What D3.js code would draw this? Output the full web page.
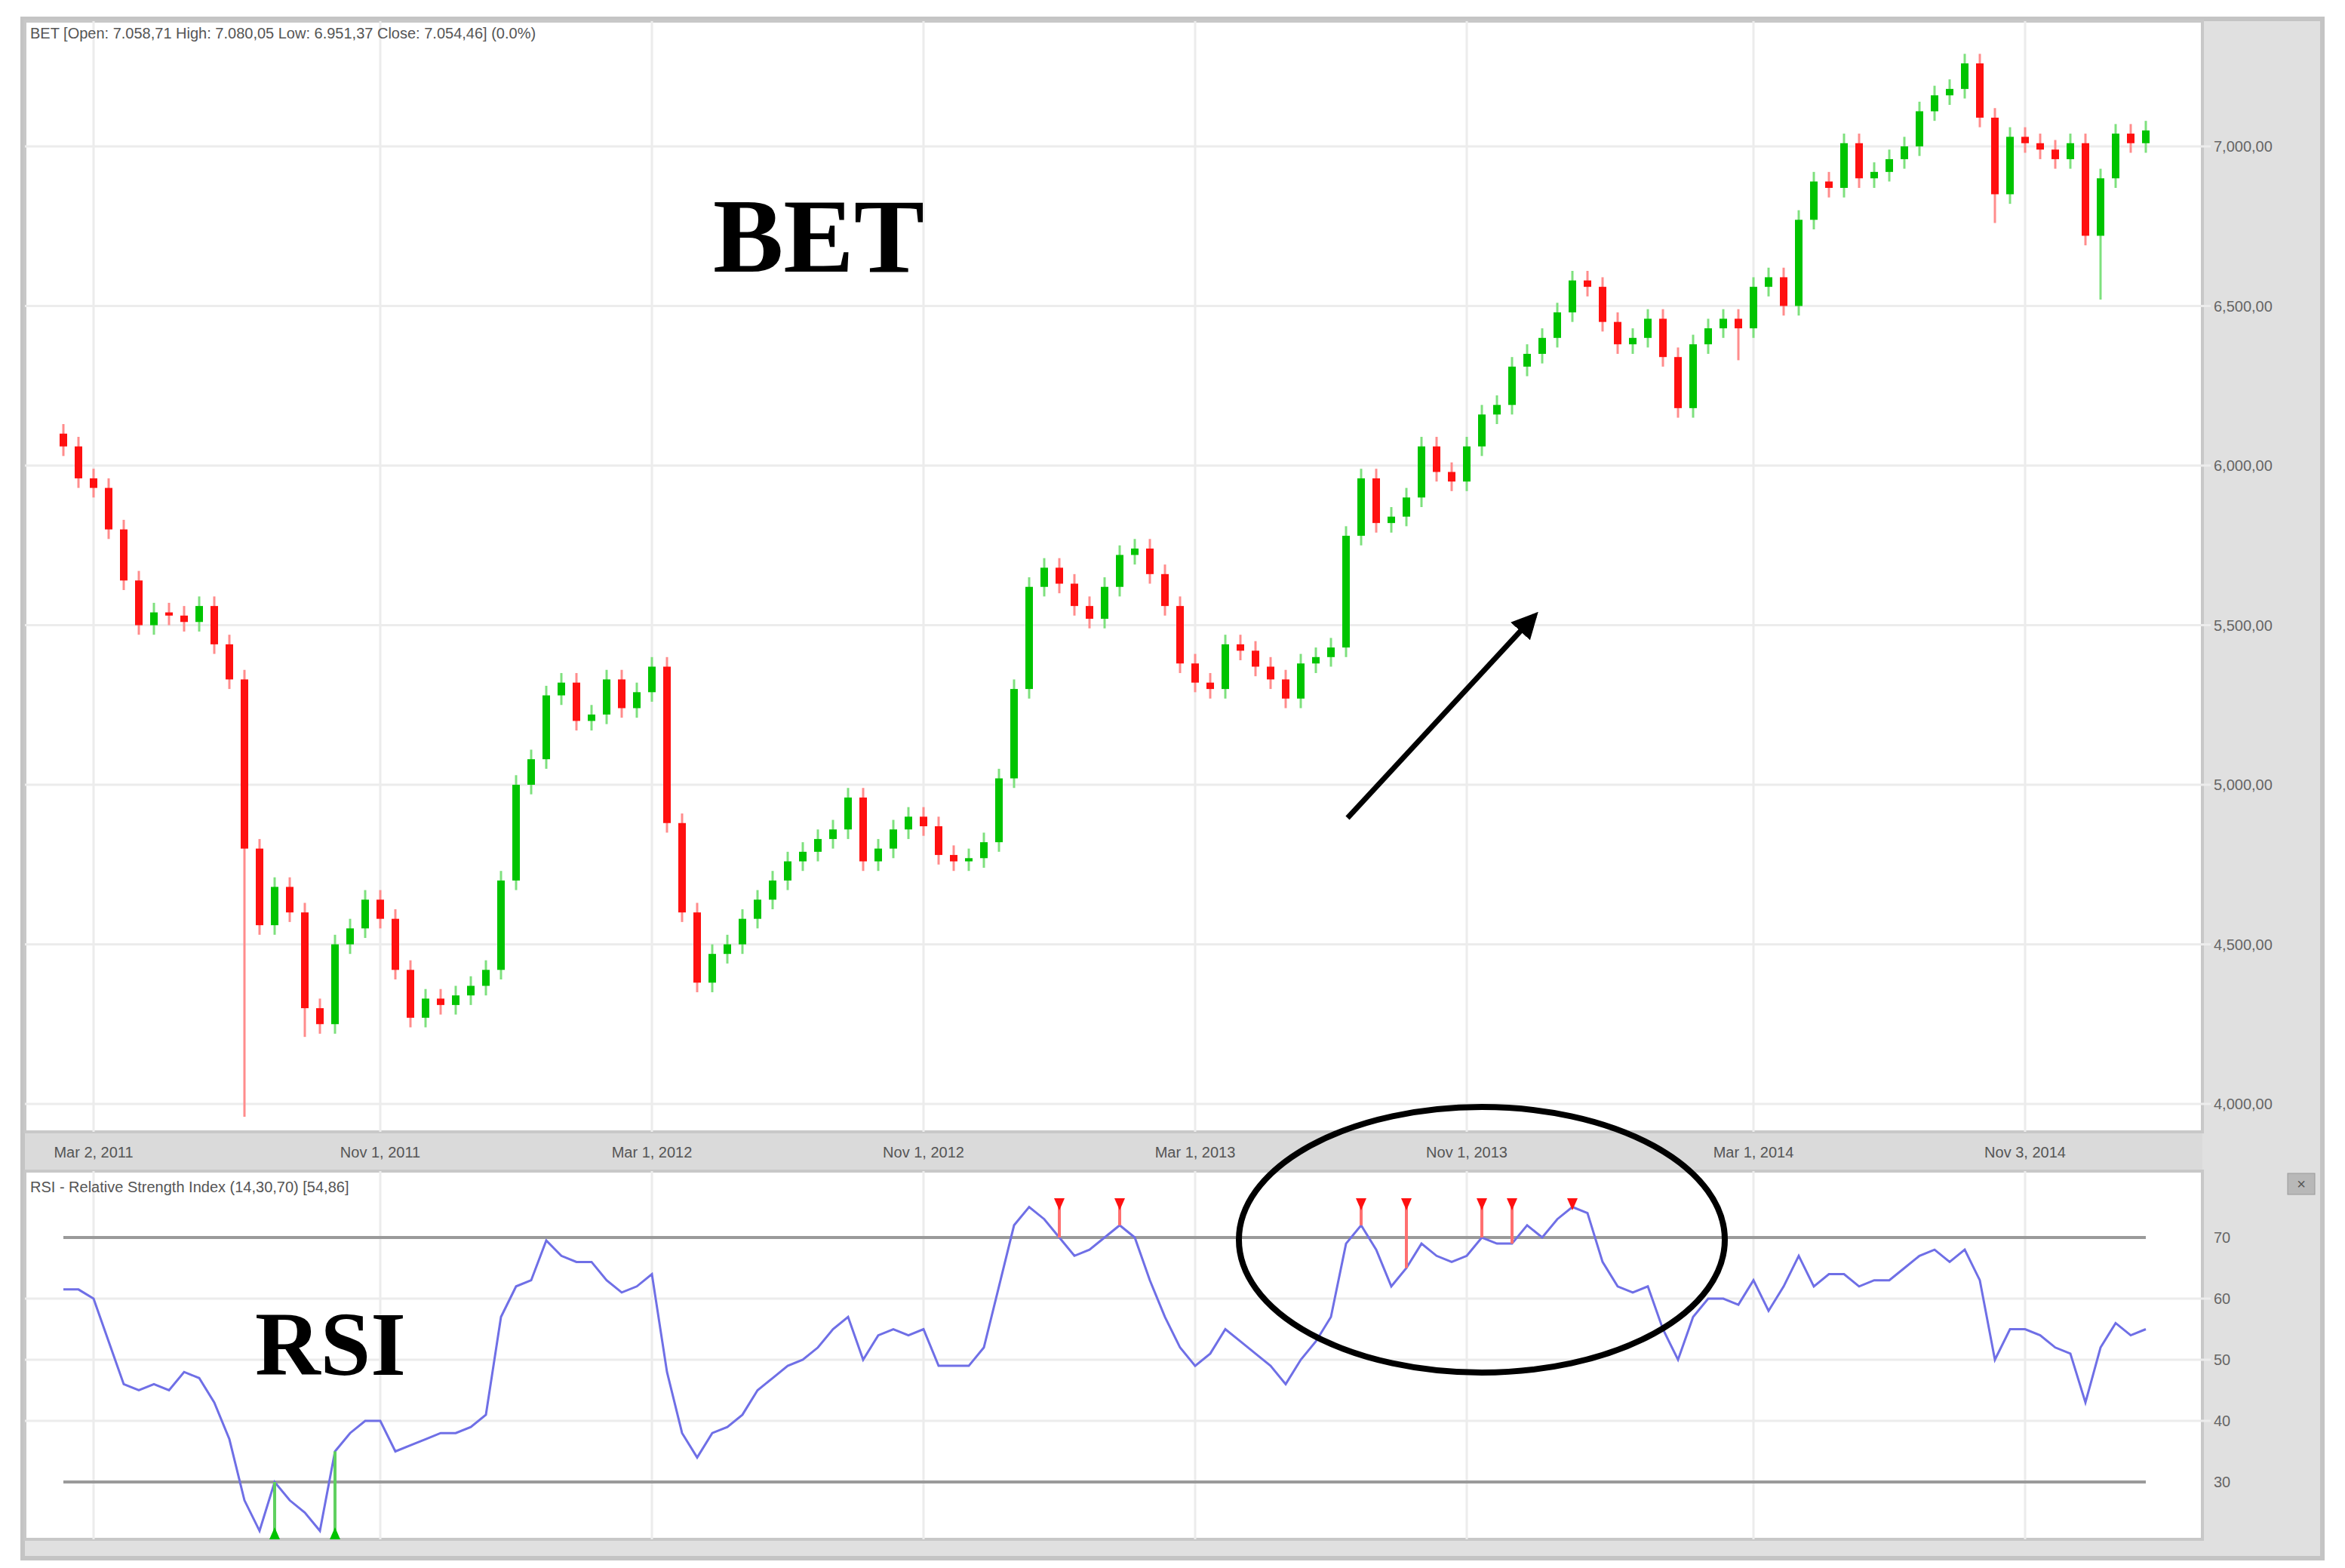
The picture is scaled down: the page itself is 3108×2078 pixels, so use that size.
<!DOCTYPE html>
<html><head><meta charset="utf-8">
<script src="https://cdn.jsdelivr.net/npm/d3@7"></script>
<style>body{margin:0;background:#fff}</style>
</head><body><div id="root"></div>
<script>
const width = 3108, height = 2078;

// weekly closes
const closes = [6060,5960,5930,5800,5640,5500,5540,5530,5510,5560,5440,5330,4800,4560,4680,4600,4300,4250,4500,4550,
4640,4580,4420,4270,4330,4310,4340,4370,4420,4700,5000,5080,5280,5320,5200,5220,5330,5240,5290,5370,
4880,4600,4380,4470,4500,4580,4640,4700,4760,4790,4830,4860,4960,4760,4800,4860,4900,4870,4780,4760,
4770,4820,5020,5300,5620,5680,5630,5560,5520,5620,5720,5740,5660,5560,5380,5320,5300,5440,5420,5370,
5330,5270,5380,5400,5430,5780,5960,5820,5840,5900,6060,5980,5950,6060,6160,6190,6310,6350,6400,6480,
6580,6560,6450,6380,6400,6460,6340,6180,6380,6430,6460,6430,6560,6590,6500,6770,6890,6870,7010,6900,
6920,6960,7000,7110,7160,7180,7260,7090,6850,7030,7010,6990,6960,7010,6720,6900,7040,7010,7050];
const lowOverrides = [[12, 3960], [16, 4210], [107, 6150], [111, 6330], [135, 6520], [128, 6760]];
const rsi = [61.5,61.5,60,53,46,45,46,45,48,47,43,37,27,22,30,27,25,22,35,38,
40,40,35,36,37,38,38,39,41,57,62,63,69.5,67,66,66,63,61,62,64,
48,38,34,38,39,41,45,47,49,50,52,55,57,50,54,55,54,55,49,49,
49,52,62,72,75,73,70,67,68,70,72,70,63,57,52,49,51,55,53,51,
49,46,50,53,57,69,72,68,62,65,69,67,66,67,70,69,69,72,70,73,
75,74,66,62,61,62,55,50,57,60,60,59,63,58,62,67,62,64,64,62,
63,63,65,67,68,66,68,63,50,55,55,54,52,51,43,52,56,54,55];
const sellSignals = [66, 70, 86, 89, 94, 96, 100];
const buySignals = [14, 18];
const dateLabels = [[2,"Mar 2, 2011"],[21,"Nov 1, 2011"],[39,"Mar 1, 2012"],[57,"Nov 1, 2012"],
  [75,"Mar 1, 2013"],[93,"Nov 1, 2013"],[112,"Mar 1, 2014"],[130,"Nov 3, 2014"]];
const priceTicks = [4000,4500,5000,5500,6000,6500,7000];
const rsiTicks = [30,40,50,60,70];

const svg = d3.select("#root").append("svg").attr("width", width).attr("height", height)
  .style("font-family", "'Liberation Sans', Arial, sans-serif");

// frame
svg.append("rect").attr("x", 30).attr("y", 25).attr("width", 3048).attr("height", 2040)
  .attr("fill", "#e0e0e0").attr("stroke", "#c4c4c4").attr("stroke-width", 6);
const mainP = {x: 33, y: 28, w: 2886, h: 1472};
const rsiP = {x: 33, y: 1552, w: 2886, h: 488};
svg.append("rect").attr("x", 33).attr("y", 1500).attr("width", 2886).attr("height", 52).attr("fill", "#dadada");
[mainP, rsiP].forEach(p => svg.append("rect").attr("x", p.x).attr("y", p.y).attr("width", p.w).attr("height", p.h)
  .attr("fill", "#fff").attr("stroke", "#c8c8c8").attr("stroke-width", 4));

const x = d3.scaleLinear().domain([0, 1]).range([84, 104]);
const y = d3.scaleLinear().domain([4000, 7000]).range([1463, 194]);
const yr = d3.scaleLinear().domain([30, 70]).range([1964, 1640]);

// vertical grid
dateLabels.forEach(([i, t]) => {
  [[mainP.y, mainP.y + mainP.h], [rsiP.y, rsiP.y + rsiP.h]].forEach(([a, b]) =>
    svg.append("line").attr("x1", x(i)).attr("x2", x(i)).attr("y1", a).attr("y2", b)
      .attr("stroke", "#ececec").attr("stroke-width", 3));
  svg.append("text").attr("x", x(i)).attr("y", 1534).attr("text-anchor", "middle")
    .attr("font-size", 20).attr("fill", "#555").text(t);
});

// price grid + labels
priceTicks.forEach(v => {
  svg.append("line").attr("x1", mainP.x).attr("x2", 2930).attr("y1", y(v)).attr("y2", y(v))
    .attr("stroke", "#ececec").attr("stroke-width", 3);
  svg.append("text").attr("x", 2934).attr("y", y(v) + 7).attr("font-size", 20).attr("fill", "#666")
    .text(d3.format(",")(v) + ",00");
});
rsiTicks.forEach(v => {
  const strong = v === 30 || v === 70;
  svg.append("line").attr("x1", strong ? x(0) : rsiP.x).attr("x2", strong ? x(138) : 2930)
    .attr("y1", yr(v)).attr("y2", yr(v))
    .attr("stroke", strong ? "#9a9a9a" : "#ececec").attr("stroke-width", strong ? 4 : 3);
  svg.append("text").attr("x", 2934).attr("y", yr(v) + 7).attr("font-size", 20).attr("fill", "#666").text(v);
});

// header texts
svg.append("text").attr("x", 40).attr("y", 51).attr("font-size", 20).attr("fill", "#555")
  .text("BET [Open: 7.058,71  High: 7.080,05  Low: 6.951,37  Close: 7.054,46] (0.0%)");
svg.append("text").attr("x", 40).attr("y", 1580).attr("font-size", 20).attr("fill", "#555")
  .text("RSI - Relative Strength Index (14,30,70) [54,86]");
svg.append("rect").attr("x", 3032).attr("y", 1555).attr("width", 36).attr("height", 28)
  .attr("fill", "#b8b8b8").attr("stroke", "#999");
svg.append("text").attr("x", 3050).attr("y", 1576).attr("text-anchor", "middle").attr("font-size", 20).attr("fill", "#555").text("×");

// candles
const lowMap = new Map(lowOverrides);
const candles = closes.map((c, i) => {
  const o = i === 0 ? 6100 : closes[i - 1];
  return {i, o, c, hi: Math.max(o, c) + 30, lo: lowMap.get(i) ?? Math.min(o, c) - 30};
});
const cg = svg.append("g").selectAll("g").data(candles).enter().append("g");
cg.append("line").attr("x1", d => x(d.i)).attr("x2", d => x(d.i))
  .attr("y1", d => y(d.hi)).attr("y2", d => y(d.lo))
  .attr("stroke", d => d.c >= d.o ? "#7ee07e" : "#ff8c8c").attr("stroke-width", 3);
cg.append("rect").attr("x", d => x(d.i) - 5).attr("width", 10)
  .attr("y", d => y(Math.max(d.o, d.c))).attr("height", d => Math.max(4, Math.abs(y(d.o) - y(d.c))))
  .attr("fill", d => d.c >= d.o ? "#00c400" : "#ff1010");

// RSI line
svg.append("path").datum(rsi)
  .attr("d", d3.line().x((d, i) => x(i)).y(d => yr(d)))
  .attr("fill", "none").attr("stroke", "#6f6fe6").attr("stroke-width", 3);

// signals
sellSignals.forEach(i => {
  svg.append("line").attr("x1", x(i)).attr("x2", x(i)).attr("y1", 1598).attr("y2", yr(rsi[i]))
    .attr("stroke", "#ff7070").attr("stroke-width", 4);
  svg.append("path").attr("d", `M${x(i) - 7},1588 L${x(i) + 7},1588 L${x(i)},1604 Z`).attr("fill", "#ff1010");
});
buySignals.forEach(i => {
  svg.append("line").attr("x1", x(i)).attr("x2", x(i)).attr("y1", 2036).attr("y2", yr(rsi[i]))
    .attr("stroke", "#60d060").attr("stroke-width", 4);
  svg.append("path").attr("d", `M${x(i) - 7},2040 L${x(i) + 7},2040 L${x(i)},2024 Z`).attr("fill", "#00c400");
});

// annotations
svg.append("text").attr("x", 1085).attr("y", 360).attr("text-anchor", "middle")
  .attr("font-family", "'Liberation Serif', 'DejaVu Serif', serif").attr("font-weight", "bold")
  .attr("font-size", 140).text("BET");
svg.append("text").attr("x", 438).attr("y", 1822).attr("text-anchor", "middle")
  .attr("font-family", "'Liberation Serif', 'DejaVu Serif', serif").attr("font-weight", "bold")
  .attr("font-size", 120).text("RSI");
svg.append("defs").append("marker").attr("id", "ah").attr("viewBox", "0 0 10 10")
  .attr("refX", 8).attr("refY", 5).attr("markerWidth", 5).attr("markerHeight", 5)
  .attr("orient", "auto").append("path").attr("d", "M0,0 L10,5 L0,10 Z");
svg.append("line").attr("x1", 1786).attr("y1", 1084).attr("x2", 2034).attr("y2", 816)
  .attr("stroke", "#000").attr("stroke-width", 7).attr("marker-end", "url(#ah)");
svg.append("ellipse").attr("cx", 1964).attr("cy", 1643).attr("rx", 322).attr("ry", 176)
  .attr("fill", "none").attr("stroke", "#000").attr("stroke-width", 8);
</script></body></html>
